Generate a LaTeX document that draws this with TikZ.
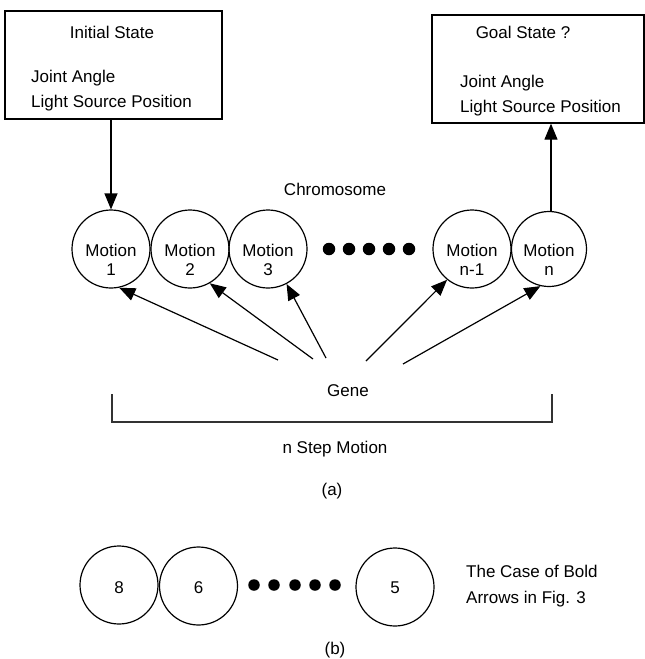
\documentclass[tikz,border=0pt]{standalone}
\usepackage{fontspec}
\setmainfont{Liberation Sans}
\usetikzlibrary{arrows.meta}
\begin{document}
\begin{tikzpicture}[x=1pt,y=-1pt,
  every node/.style={font=\fontsize{17}{20}\selectfont},
  statebox/.style={draw,line width=1.3pt,rectangle,inner sep=0pt},
  circ/.style={draw,circle,line width=1.2pt,inner sep=0pt,minimum size=78pt},
  txt/.style={anchor=base,inner sep=0pt},
  ltxt/.style={anchor=base west,inner sep=0pt},
  dot/.style={fill,circle,inner sep=0pt,minimum size=12.5pt},
  sdot/.style={fill,circle,inner sep=0pt,minimum size=11.5pt},
  arr/.style={line width=1.2pt,-{Triangle[length=16pt,width=13pt]}}]
\useasboundingbox (0,0) rectangle (645,659);

% --- (a) state boxes ---
\node[statebox,minimum width=217pt,minimum height=108pt] (init) at (113.5,65) {};
\node[txt] (initT) at (112,38) {Initial State};
\node[ltxt] (initJ) at (31,82) {Joint Angle};
\node[ltxt] (initL) at (31,107) {Light Source Position};

\node[statebox,minimum width=212pt,minimum height=108pt] (goal) at (538,69) {};
\node[txt] (goalT) at (523,38) {Goal State ?};
\node[ltxt] (goalJ) at (460,87) {Joint Angle};
\node[ltxt] (goalL) at (460,112) {Light Source Position};

% --- chromosome of motions ---
\node[txt] (chrom) at (335,195) {Chromosome};
\node[circ] (m1) at (111,249) {};
\node[circ] (m2) at (190,249) {};
\node[circ] (m3) at (268,249) {};
\node[circ] (m4) at (472,249) {};
\node[circ,minimum size=75pt] (m5) at (549,249) {};
\foreach \n/\x/\lab in {m1/111/1, m2/190/2, m3/268/3, m4/472/n-1, m5/549/n}{
  \node[txt] (\n a) at (\x,256) {Motion};
  \node[txt] (\n b) at (\x,275) {\lab};
}
\foreach \i/\x in {1/329,2/349,3/369,4/389,5/409}
  \node[dot] (da\i) at (\x,249) {};

% --- state arrows ---
\draw[arr] (init.south -| m1.north) -- (m1.north);
\draw[arr] (m5.north -| 551,0) -- (goal.south -| 551,0);

% --- genes ---
\coordinate (g1) at (278,360);
\coordinate (g2) at (313,359);
\coordinate (g3) at (326,358);
\coordinate (g4) at (366,361);
\coordinate (g5) at (403,364);
\draw[arr] (g1) -- (m1.-78);
\draw[arr] (g2) -- (m2.-60);
\draw[arr] (g3) -- (m3.-62);
\draw[arr] (g4) -- (m4.-129);
\draw[arr] (g5) -- (m5.-103);
\node[txt] (gene) at (348,396) {Gene};

% --- bracket over the n steps ---
\draw[line width=1.4pt,black!80] (112,394) -- (112,422) -- (552,422) -- (552,394);
\node[txt] (nstep) at (335,453) {n Step Motion};
\node[txt] (capa) at (332,495) {(a)};

% --- (b) ---
\node[circ] (b8) at (119,585) {};
\node[circ] (b6) at (198.5,586) {};
\node[circ] (b5) at (395,587) {};
\node[txt] (b8t) at (119,593) {8};
\node[txt] (b6t) at (198.5,593) {6};
\node[txt] (b5t) at (395,593) {5};
\foreach \i/\x in {1/254,2/274,3/295,4/315,5/335}
  \node[sdot] (db\i) at (\x,585) {};
\node[ltxt] (caseA) at (466,577) {The Case of Bold};
\node[ltxt] (caseB) at (466,603) {Arrows in Fig. 3};
\node[txt] (capb) at (335,654) {(b)};
\end{tikzpicture}
\end{document}
